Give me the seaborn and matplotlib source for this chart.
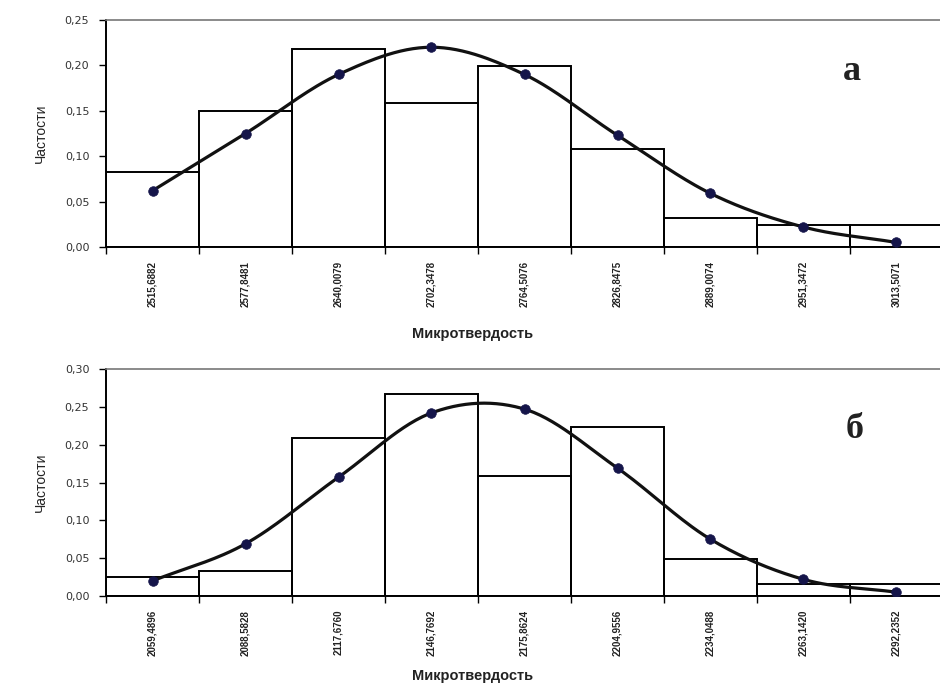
import numpy as np
import pandas as pd
import matplotlib
matplotlib.use("Agg")
import matplotlib.pyplot as plt
import seaborn as sns

# ---- data ----
labels_a = ["2515,6882", "2577,8481", "2640,0079", "2702,3478", "2764,5076",
            "2826,8475", "2889,0074", "2951,3472", "3013,5071"]
bars_a = [0.083, 0.150, 0.218, 0.159, 0.199, 0.108, 0.032, 0.024, 0.024]
curve_a = [0.062, 0.125, 0.190, 0.220, 0.190, 0.123, 0.059, 0.022, 0.005]

labels_b = ["2059,4896", "2088,5828", "2117,6760", "2146,7692", "2175,8624",
            "2204,9556", "2234,0488", "2263,1420", "2292,2352"]
bars_b = [0.025, 0.033, 0.209, 0.267, 0.159, 0.223, 0.049, 0.016, 0.016]
curve_b = [0.020, 0.069, 0.157, 0.242, 0.247, 0.169, 0.075, 0.022, 0.005]

yticks_a = [0.00, 0.05, 0.10, 0.15, 0.20, 0.25]
yticks_b = [0.00, 0.05, 0.10, 0.15, 0.20, 0.25, 0.30]

sns.set_theme(style="white")
plt.rcParams['font.family'] = ['Liberation Sans Narrow', 'Liberation Sans', 'DejaVu Sans']

W, H = 940, 691
fig = plt.figure(figsize=(W / 100, H / 100), dpi=100)


def smooth(x, y, n=30):
    """Catmull-Rom style smoothing for drawing (like Excel smoothed line)."""
    x = np.asarray(x, float)
    y = np.asarray(y, float)
    P = np.column_stack([x, y])
    P = np.vstack([2 * P[0] - P[1], P, 2 * P[-1] - P[-2]])
    out = []
    for i in range(1, len(P) - 2):
        p0, p1, p2, p3 = P[i - 1], P[i], P[i + 1], P[i + 2]
        t = np.linspace(0, 1, n, endpoint=False)[:, None]
        seg = 0.5 * ((2 * p1) + (-p0 + p2) * t + (2 * p0 - 5 * p1 + 4 * p2 - p3) * t ** 2
                     + (-p0 + 3 * p1 - 3 * p2 + p3) * t ** 3)
        out.append(seg)
    out.append(P[-2][None, :])
    out = np.vstack(out)
    return out[:, 0], out[:, 1]


def panel(rect, labels, bars, curve, yticks, letter, letter_xy, xlabel_y):
    ax = fig.add_axes(rect)
    df = pd.DataFrame({"cat": labels, "freq": bars})
    sns.barplot(data=df, x="cat", y="freq", ax=ax, width=1.0, fill=False,
                edgecolor="black", linewidth=1.4, errorbar=None)
    pos = np.arange(len(labels))
    sx, sy = smooth(pos, curve)
    sns.lineplot(x=sx, y=sy, ax=ax, sort=False, color="#111111", linewidth=2.3,
                 estimator=None)
    sns.scatterplot(x=pos, y=curve, ax=ax, color="#15154a", s=48,
                    edgecolor="#15154a", linewidth=0.5, zorder=5)
    ax.set_xlim(-0.5, len(labels) - 0.5)
    ax.set_ylim(yticks[0], yticks[-1])
    # ticks at bin boundaries, labels at centres
    ax.set_xticks(np.arange(len(labels) + 1) - 0.5)
    ax.set_xticklabels([])
    ax.set_xticks(pos, minor=True)
    ax.set_xticklabels(labels, minor=True, rotation=90, fontsize=7,
                       fontweight="bold", color="#222222",
                       va="top", ha="center")
    ax.tick_params(axis="x", which="major", direction="out", length=5,
                   width=1, color="black", bottom=True)
    ax.tick_params(axis="x", which="minor", length=0, pad=10, bottom=True)
    ax.set_yticks(yticks)
    ax.set_yticklabels([f"{v:.2f}".replace(".", ",") for v in yticks],
                       fontsize=8, color="#333333",
                       family=["DejaVu Sans"])
    ax.tick_params(axis="y", direction="out", length=5, width=1,
                   color="black", left=True, pad=7)
    for s in ["left", "bottom"]:
        ax.spines[s].set_color("black")
        ax.spines[s].set_linewidth(1.4)
    ax.spines["top"].set_color("#777777")
    ax.spines["top"].set_linewidth(1.2)
    ax.spines["right"].set_visible(False)
    ax.set_xlabel("")
    ax.set_ylabel("Частости", fontsize=10, labelpad=12, color="#222222")
    ax.grid(False)
    fig.text(letter_xy[0] / W, 1 - letter_xy[1] / H, letter,
             family=["Liberation Serif", "DejaVu Serif"], fontsize=26,
             fontweight="bold", ha="center", va="center", color="#222222")
    fig.text(473 / W, 1 - xlabel_y / H, "Микротвердость",
             fontsize=10.5, fontweight="bold", ha="center", va="center",
             family=["Liberation Sans", "DejaVu Sans"], color="#222222")
    return ax


left = 106 / W
width = (943 - 106) / W
h = (247 - 20) / H
panel([left, 1 - 247 / H, width, h], labels_a, bars_a, curve_a, yticks_a,
      "а", (852, 72), 334)
panel([left, 1 - 596 / H, width, h], labels_b, bars_b, curve_b, yticks_b,
      "б", (855, 430), 676)

fig.savefig("out.png", dpi=100)
